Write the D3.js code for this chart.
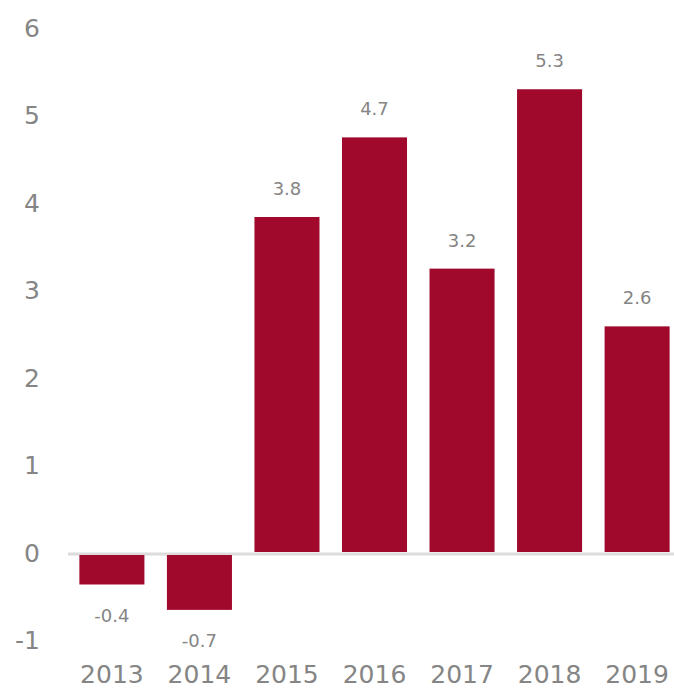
<!DOCTYPE html>
<html>
<head>
<meta charset="utf-8">
<script src="https://cdn.jsdelivr.net/npm/d3@7"></script>
<style>
  html, body { margin: 0; padding: 0; background: #ffffff; }
  svg { display: block; }
</style>
</head>
<body>
<svg id="chart" width="674" height="689"></svg>
<script>
const years = ["2013", "2014", "2015", "2016", "2017", "2018", "2019"];
const values = [-0.36, -0.65, 3.84, 4.75, 3.25, 5.30, 2.59];
const valueLabels = ["-0.4", "-0.7", "3.8", "4.7", "3.2", "5.3", "2.6"];
const yTicks = [-1, 0, 1, 2, 3, 4, 5, 6];

const svg = d3.select("#chart");
const font = "'DejaVu Sans', sans-serif";
const barColor = "#a1092c";
const textColor = "#858585";

const x = d3.scaleBand().domain(years).range([68, 681]).paddingInner(0.257).paddingOuter(0.13);
const y = d3.scaleLinear().domain([-1, 6]).range([640.5, 28]);

// zero line
svg.append("line")
  .attr("x1", 68).attr("x2", 681)
  .attr("y1", y(0) + 1).attr("y2", y(0) + 1)
  .attr("stroke", "#dcdcdc").attr("stroke-width", 3);

// bars
svg.append("g").selectAll("rect").data(years).join("rect")
  .attr("x", d => x(d))
  .attr("width", x.bandwidth())
  .attr("y", (d, i) => values[i] >= 0 ? y(values[i]) : y(0) + 2)
  .attr("height", (d, i) => values[i] >= 0 ? y(0) - y(values[i]) - 1 : y(values[i]) - y(0) - 2)
  .attr("fill", barColor);

// value labels
svg.append("g").selectAll("text").data(years).join("text")
  .attr("x", d => x(d) + x.bandwidth() / 2)
  .attr("y", (d, i) => values[i] >= 0 ? y(values[i]) - 22 : y(values[i]) + 37)
  .attr("text-anchor", "middle")
  .attr("font-family", font)
  .attr("font-size", 18)
  .attr("fill", textColor)
  .text((d, i) => valueLabels[i]);

// y axis
const yAxis = svg.append("g")
  .attr("transform", "translate(48,0)")
  .call(d3.axisLeft(y).tickValues(yTicks).tickSize(0).tickPadding(8).tickFormat(d => String(d)));
yAxis.select(".domain").remove();
yAxis.selectAll("text")
  .attr("font-family", font).attr("font-size", 25).attr("fill", textColor);

// x axis
const xAxis = svg.append("g")
  .attr("transform", "translate(0,662)")
  .call(d3.axisBottom(x).tickSize(0).tickPadding(3));
xAxis.select(".domain").remove();
xAxis.selectAll("text")
  .attr("font-family", font).attr("font-size", 25).attr("fill", textColor);
</script>
</body>
</html>
